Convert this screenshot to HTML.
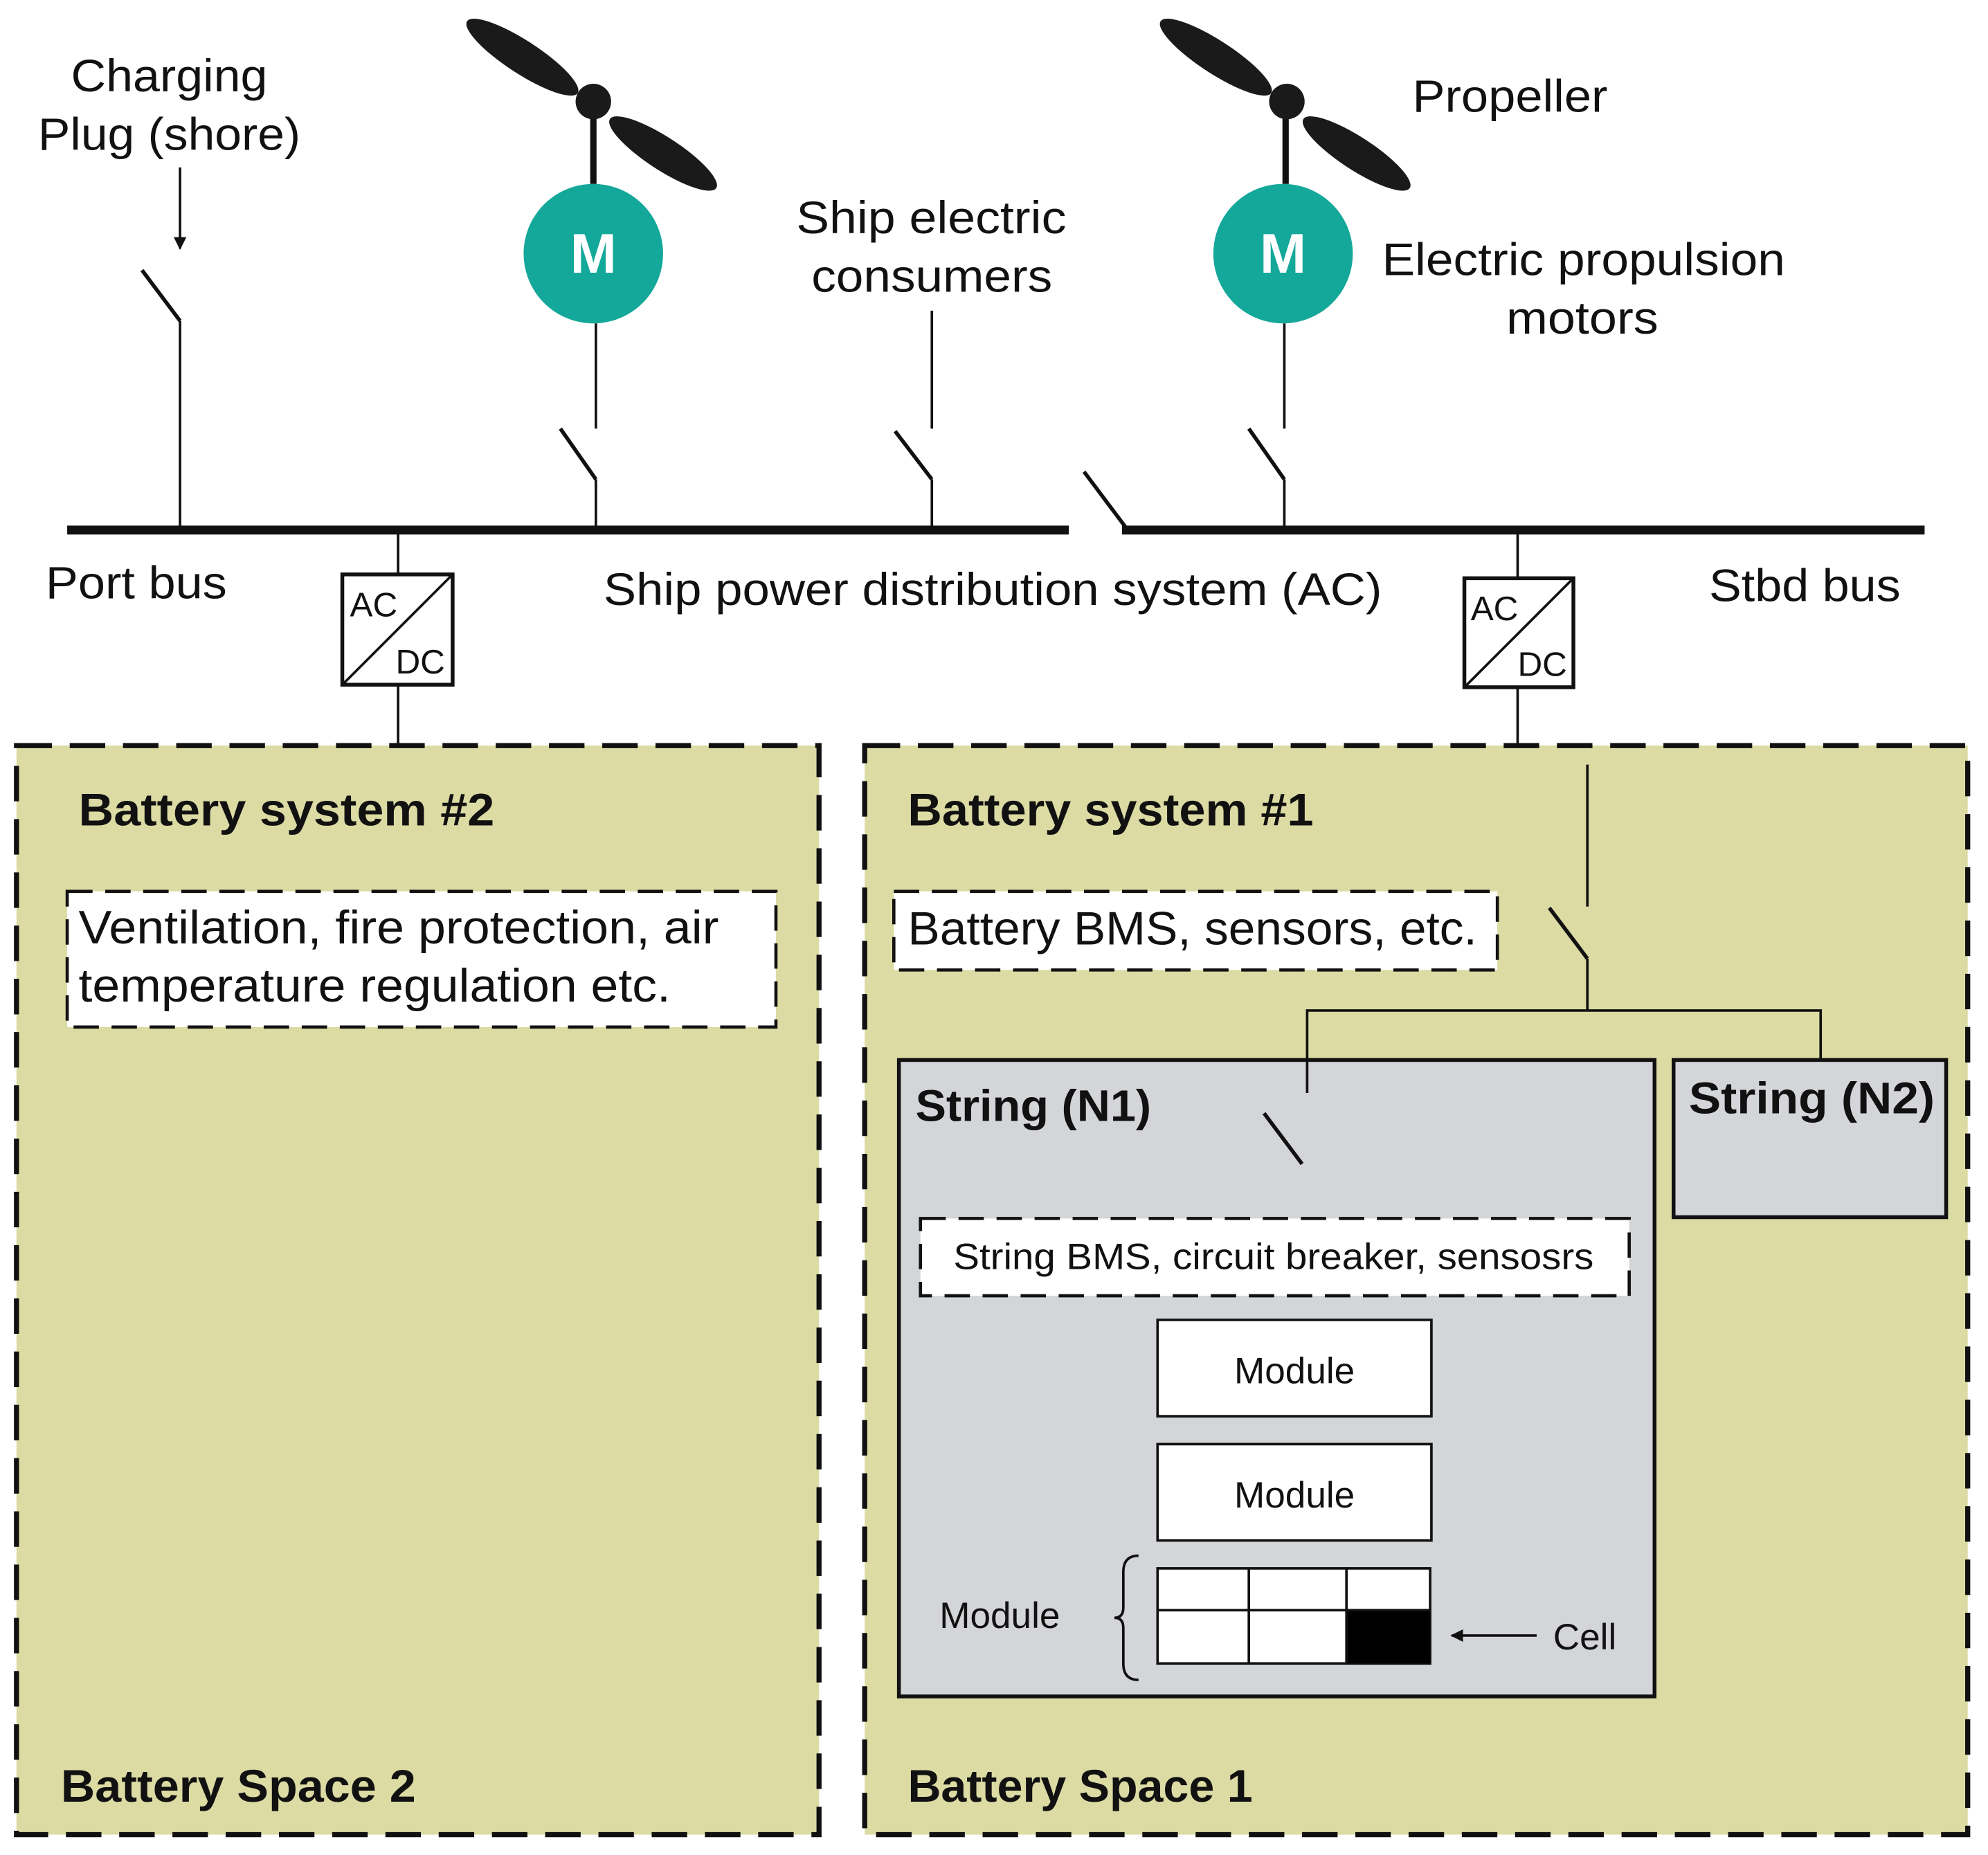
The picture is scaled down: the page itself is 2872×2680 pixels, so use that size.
<!DOCTYPE html>
<html><head><meta charset="utf-8"><style>
html,body{margin:0;padding:0;background:#fff;}
svg{display:block;}
text{font-family:"Liberation Sans",sans-serif;fill:#111;}
.b{font-weight:bold;}
</style></head><body>
<svg width="2872" height="2680" viewBox="0 0 1568 1463" xmlns="http://www.w3.org/2000/svg">
<defs><marker id="ah" markerWidth="10" markerHeight="10" refX="9" refY="5" orient="auto" markerUnits="userSpaceOnUse"><path d="M0,0 L10,5 L0,10 Z" fill="#111"/></marker></defs>
<g stroke="#111" stroke-width="2" fill="none">
<line x1="53" y1="418" x2="843" y2="418" stroke-width="7"/>
<line x1="885" y1="418" x2="1518" y2="418" stroke-width="7"/>
<line x1="855" y1="372" x2="888" y2="416" stroke-width="3"/>
<line x1="142" y1="132" x2="142" y2="196" marker-end="url(#ah)"/>
<line x1="112" y1="213" x2="142" y2="253" stroke-width="3"/>
<line x1="142" y1="253" x2="142" y2="418"/>
<line x1="468" y1="145" x2="468" y2="82" stroke-width="5"/>
<line x1="470" y1="255" x2="470" y2="338"/>
<line x1="442" y1="338" x2="470" y2="378" stroke-width="3"/>
<line x1="470" y1="378" x2="470" y2="418"/>
<line x1="735" y1="245" x2="735" y2="338"/>
<line x1="706" y1="340" x2="735" y2="378" stroke-width="3"/>
<line x1="735" y1="378" x2="735" y2="418"/>
<line x1="1014" y1="145" x2="1014" y2="82" stroke-width="5"/>
<line x1="1013" y1="255" x2="1013" y2="338"/>
<line x1="985" y1="338" x2="1013" y2="378" stroke-width="3"/>
<line x1="1013" y1="378" x2="1013" y2="418"/>
<line x1="314" y1="418" x2="314" y2="453"/>
<rect x="270" y="453" width="87" height="87" stroke-width="3"/>
<line x1="270" y1="540" x2="357" y2="453"/>
<line x1="314" y1="540" x2="314" y2="588"/>
<line x1="1197" y1="418" x2="1197" y2="456"/>
<rect x="1155" y="456" width="86" height="86" stroke-width="3"/>
<line x1="1155" y1="542" x2="1241" y2="456"/>
<line x1="1197" y1="542" x2="1197" y2="588"/>
</g>
<g fill="#1a1a1a">
<ellipse cx="412" cy="45" rx="52" ry="13" transform="rotate(33 412 45)"/>
<ellipse cx="523" cy="121" rx="50" ry="13" transform="rotate(33 523 121)"/>
<circle cx="468" cy="80" r="14"/>
<ellipse cx="959" cy="45" rx="52" ry="13" transform="rotate(33 959 45)"/>
<ellipse cx="1070" cy="121" rx="50" ry="13" transform="rotate(33 1070 121)"/>
<circle cx="1015" cy="80" r="14"/>
</g>
<circle cx="468" cy="200" r="55" fill="#14a89a"/>
<circle cx="1012" cy="200" r="55" fill="#14a89a"/>
<text x="468" y="215" font-size="44" text-anchor="middle" class="b" style="fill:#fff">M</text>
<text x="1012" y="215" font-size="44" text-anchor="middle" class="b" style="fill:#fff">M</text>
<g font-size="36" lengthAdjust="spacingAndGlyphs">
<text x="56" y="72" textLength="155" lengthAdjust="spacingAndGlyphs">Charging</text>
<text x="30" y="118" textLength="207" lengthAdjust="spacingAndGlyphs">Plug (shore)</text>
<text x="628" y="184" textLength="213" lengthAdjust="spacingAndGlyphs">Ship electric</text>
<text x="640" y="230" textLength="190" lengthAdjust="spacingAndGlyphs">consumers</text>
<text x="1114" y="88" textLength="154" lengthAdjust="spacingAndGlyphs">Propeller</text>
<text x="1090" y="217" textLength="318" lengthAdjust="spacingAndGlyphs">Electric propulsion</text>
<text x="1188" y="263" textLength="120" lengthAdjust="spacingAndGlyphs">motors</text>
<text x="36" y="472" textLength="143" lengthAdjust="spacingAndGlyphs">Port bus</text>
<text x="476" y="477" textLength="614" lengthAdjust="spacingAndGlyphs">Ship power distribution system (AC)</text>
<text x="1348" y="474" textLength="151" lengthAdjust="spacingAndGlyphs">Stbd bus</text>
</g>
<g font-size="27">
<text x="276" y="486">AC</text><text x="312" y="531">DC</text>
<text x="1160" y="489">AC</text><text x="1197" y="533">DC</text>
</g>
<g stroke="#111" stroke-width="4" stroke-dasharray="28,14" fill="#dcdba4">
<rect x="13" y="588" width="633" height="859"/>
<rect x="682" y="588" width="870" height="859"/>
</g>
<g stroke="#111" stroke-width="2.5" stroke-dasharray="20,10" fill="#fff">
<rect x="53" y="703" width="559" height="107"/>
<rect x="705" y="703" width="476" height="62"/>
</g>
<g font-size="36">
<text x="62" y="651" class="b" textLength="328" lengthAdjust="spacingAndGlyphs">Battery system #2</text>
<text x="716" y="651" class="b" textLength="320" lengthAdjust="spacingAndGlyphs">Battery system #1</text>
<text x="48" y="1421" class="b" textLength="280" lengthAdjust="spacingAndGlyphs">Battery Space 2</text>
<text x="716" y="1421" class="b" textLength="272" lengthAdjust="spacingAndGlyphs">Battery Space 1</text>
</g>
<g font-size="37">
<text x="62" y="744" textLength="505" lengthAdjust="spacingAndGlyphs">Ventilation, fire protection, air</text>
<text x="62" y="790" textLength="467" lengthAdjust="spacingAndGlyphs">temperature regulation etc.</text>
<text x="716" y="745" textLength="449" lengthAdjust="spacingAndGlyphs">Battery BMS, sensors, etc.</text>
</g>
<rect x="709" y="836" width="596" height="502" fill="#d4d5d8" stroke="#111" stroke-width="3"/>
<rect x="1320" y="836" width="215" height="124" fill="#d4d5d8" stroke="#111" stroke-width="3"/>
<g stroke="#111" stroke-width="2" fill="none">
<line x1="1252" y1="603" x2="1252" y2="715"/>
<line x1="1222" y1="716" x2="1252" y2="756" stroke-width="3"/>
<line x1="1252" y1="756" x2="1252" y2="797"/>
<polyline points="1031,862 1031,797 1436,797 1436,835"/>
<line x1="997" y1="878" x2="1027" y2="918" stroke-width="3"/>
<line x1="1212" y1="1290" x2="1145" y2="1290" marker-end="url(#ah)"/>
<path d="M898,1227 Q886,1227 886,1240 L886,1268 Q886,1276 879,1276 Q886,1276 886,1284 L886,1312 Q886,1325 898,1325"/>
</g>
<rect x="726" y="961" width="559" height="61" fill="#fff" stroke="#111" stroke-width="2.5" stroke-dasharray="20,10"/>
<g fill="#fff" stroke="#111" stroke-width="2">
<rect x="913" y="1041" width="216" height="76"/>
<rect x="913" y="1139" width="216" height="76"/>
<rect x="913" y="1237" width="215" height="75"/>
</g>
<rect x="1062" y="1270" width="66" height="42" fill="#000"/>
<g stroke="#111" stroke-width="2">
<line x1="913" y1="1270" x2="1128" y2="1270"/>
<line x1="985" y1="1237" x2="985" y2="1312"/>
<line x1="1062" y1="1237" x2="1062" y2="1312"/>
</g>
<text x="722" y="884" font-size="35" class="b" textLength="186" lengthAdjust="spacingAndGlyphs">String (N1)</text>
<text x="1332" y="878" font-size="35" class="b" textLength="194" lengthAdjust="spacingAndGlyphs">String (N2)</text>
<g font-size="29">
<text x="752" y="1001" textLength="505" lengthAdjust="spacingAndGlyphs">String BMS, circuit breaker, sensosrs</text>
<text x="1021" y="1091" text-anchor="middle">Module</text>
<text x="1021" y="1189" text-anchor="middle">Module</text>
<text x="741" y="1284">Module</text>
<text x="1225" y="1301">Cell</text>
</g>
</svg>
</body></html>
